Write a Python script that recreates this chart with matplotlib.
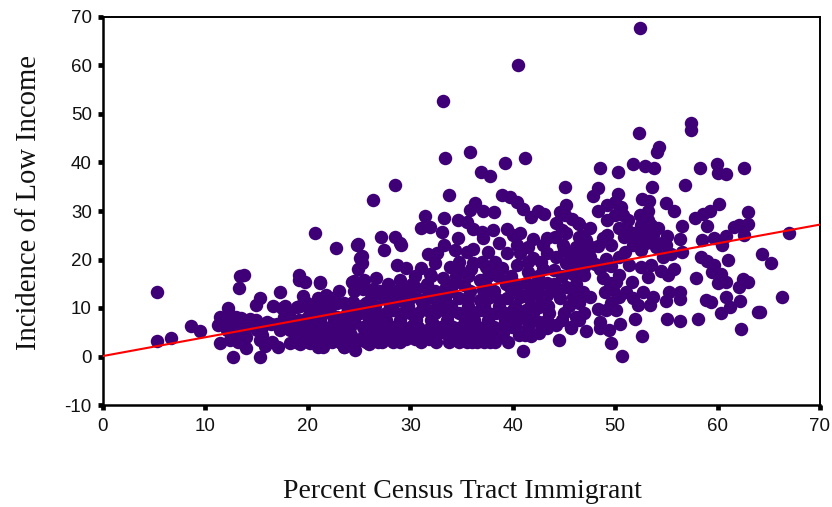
import matplotlib
matplotlib.use("Agg")
import matplotlib.pyplot as plt

outliers = [(52.4,67.8),(40.5,60),(33.2,52.7),(33.4,40.9),(35.8,42.2),(39.2,39.9),(41.2,40.9),(45.1,34.9),(33.8,33.3),(20.7,25.4),(24.8,23),(25.1,20.3),(29,23.4),(21.2,15.2)]
low_x = [(5.3,13.2),(5.3,3.1),(6.6,3.9),(8.6,6.2),(9.5,5.3),(22.7,22.3),(13.8,16.9),(13.4,16.5),(13.3,14.2),(19.1,16.9),(19.1,15.8),(19.7,15.3),(21.2,15.4),(17.3,13.2),(15.3,12.1),(14.9,10.6),(16.6,10.4),(17.5,10),(17.7,8.1),(12.2,10),(19.5,12.5),(21.8,12.7),(18.9,10.3),(11.4,8.1),(13,8.1),(14.4,7.7),(14.9,7.5),(11.2,6.5),(12.1,6.8),(13.1,5.8),(14,5.8),(15.5,6),(16.4,6.7),(17.3,5.5),(11.4,2.7),(12.4,3.4),(13.2,3),(14,1.7),(12.7,0),(15.3,0),(15.3,3.5),(15.8,2.2),(16.5,3),(17.1,1.9),(18.3,2.7),(19.2,2.6),(20.2,2.7),(21,1.9),(21.5,1.9),(19.1,7.5),(19.9,7.9),(19.6,5.8),(20.9,7.5),(20.9,11),(19.9,11),(22.8,11),(23.5,11),(22.2,10.3),(21.5,8.9),(22.8,8.2),(23.8,7.5),(18.9,4.8),(20.5,4.4),(21.8,4.8),(23.1,4.4),(23.5,1.9),(22.2,3.4),(18.3,5.5),(19.6,3.4),(24.3,15.4),(20.2,9.2),(20.9,5.8),(22.2,6.1),(23.5,6.1),(12.1,5.5),(12.7,7.2),(13.4,6.8),(12.4,8.6),(15,5.5),(12.8,7),(13.5,8),(11.8,7.4),(13.2,4.5),(14,4),(15.5,4.5),(17,6.8),(16,7.2),(18.2,8.5),(18.5,7)]
mid_x = [(36.95,38.1),(37.8,37.2),(28.5,35.4),(26.4,32.3),(39,33.2),(39.7,32.8),(40.4,31.9),(41,30.4),(41.8,28.8),(42.5,30),(43.1,29.3),(45.2,31.2),(44.6,29.7),(45.1,29.2),(36.3,31.6),(35.8,30.2),(37.1,29.9),(38.2,29.7),(34.7,28.1),(35.5,27.8),(31.4,29),(33.3,28.5),(31,26.4),(31.9,26.6),(33.1,25.7),(36.1,26.2),(37,25.7),(37.1,24.4),(38.1,26.1),(39.4,26.2),(40.7,25.5),(40,25),(44.2,27.5),(46.4,27.5),(27.1,24.7),(28.5,24.7),(29.1,23),(27.4,22),(24.9,23.1),(25.3,20.7),(25.3,19.2),(24.9,18),(34.7,24.4),(33.3,23),(31.7,21.1),(32.6,21.3),(34.4,22),(35.5,21.6),(36.1,22.1),(37.6,21.6),(38.7,23.3),(40.4,23),(42,24.2),(43.3,24.4),(44.1,24.7),(45.2,25.4),(44.9,23),(39.4,21.3),(40.7,21.3),(42,20.4),(43.3,21.3),(44.2,20.6),(28.7,18.9),(29.6,18.2),(31,18.2),(32.4,19.2),(31.9,17.1),(33.9,18.5),(34.8,17.8),(36.1,19.2),(37.4,18.5),(39,18.2),(40.4,18.9),(41.5,17.5),(44,17.8),(45.2,19.2),(46.4,17.8),(24.5,15.5),(25.5,15.8),(26.7,16.1),(25.4,13.9),(26.4,14),(27.9,14),(29,15.8),(29.3,14),(30.5,14.4),(31.6,14),(33.2,16.1),(33.5,14.4),(35.2,14.7),(36.8,15.8),(38.6,16.5),(37.1,13.7),(39.7,14.4),(41.3,15.1),(43.3,15.1),(45.2,14.4),(43.3,12.7),(44.6,12),(45.9,12.3),(42.6,10.3),(40.7,12.3),(38.7,11.6),(36.8,11.6),(34.8,12),(32.9,12.3),(31,11.6),(29,11.6),(27.4,12),(25.7,11),(24.4,11.3),(23.8,8.9),(25.1,8.9),(26.7,8.9),(28.3,9.6),(30,8.9),(31.6,9.6),(33.2,9.6),(34.8,8.9),(36.8,9.6),(38.4,8.9),(40,9.6),(41.3,9.6),(41,8.2),(42.6,7.2),(44.2,6.5),(45.7,6.1),(43.3,5.8),(42.6,4.8),(41.8,4.3),(44.5,3.4),(41,1.1),(24.1,6.1),(25.4,6.1),(27,6.8),(28.3,6.1),(30.3,6.5),(32.2,6.8),(34.2,6.1),(35.8,6.5),(37.4,6.1),(39.1,6.1),(40.4,7.5),(23.5,2),(24.6,1.3),(26,2.6),(27.2,3),(28.3,3),(29.6,3.7),(30.5,3.7),(31.8,3.7),(33.1,5.1),(34.2,5.1),(35.5,3),(36.5,3),(37.8,3),(39.1,4.8),(39.9,6.1),(23.2,2.7),(23.8,4.1),(25.1,3.4),(26.4,4.8),(28,4.8),(29.6,5.5),(31.6,5.5),(35.5,4.8),(37.1,4.8)]
high_x = [(57.4,48.1),(57.4,46.8),(52.3,46.1),(54.3,43.1),(54.1,42.2),(48.5,38.8),(50.3,38.1),(51.7,39.6),(52.9,39.3),(53.8,38.8),(58.3,38.8),(59.9,39.7),(60,37.8),(60.8,37.7),(62.6,38.8),(56.8,35.4),(53.6,34.9),(48.3,34.7),(47.8,33.1),(50.3,33.5),(60.1,31.5),(55,31.6),(55.7,30),(63,29.7),(52.6,32.4),(53.3,32.1),(48.3,30),(49.2,31.2),(50,31.9),(50.6,30.9),(49.2,28.1),(50,29.2),(50.8,29.2),(51.3,28.1),(52.4,29.2),(53.2,29.9),(53.2,28.1),(52.5,27.1),(53.5,27.1),(54.2,26.4),(57.8,28.5),(58.6,29.4),(59.3,29.9),(59,26.9),(63,27.4),(62.1,27.1),(61.6,26.6),(56.5,27),(46.5,27.4),(47.5,26.4),(50.4,26.4),(49.2,25),(50.9,24.7),(52.9,25.7),(53.7,25),(55.1,24.8),(56.3,24.2),(58.5,24),(59.7,24.4),(60.8,24.8),(62.6,25),(67,25.4),(60.4,23),(56.5,21.5),(55.5,21.1),(54.7,20.6),(58.4,20.6),(59,19.7),(59.7,18.9),(61,20),(64.3,21.1),(65.2,19.2),(55.7,18),(54.5,17.6),(55.2,16.8),(53.5,18.9),(52.5,18.5),(51.4,18.9),(53.2,16.4),(57.9,16.2),(59.5,17.5),(60.3,17),(60.8,15.4),(60,15.1),(62.5,16),(63,15.3),(62.1,14.4),(60.8,12.3),(62.2,11.5),(61.2,10.2),(58.9,11.6),(59.4,11.2),(60.3,8.9),(63.9,9.2),(64.1,9.2),(66.3,12.3),(62.3,5.7),(58.1,7.7),(56.3,7.3),(55.1,7.7),(56.3,13.2),(56.3,11.8),(55.3,13.4),(55,11.5),(53.7,12.3),(53.4,10.6),(52.7,13.2),(52.2,10.6),(51.7,12),(51.9,7.7),(52.6,4.2),(50.7,0.2),(50.5,6.8),(49.6,2.7),(49.4,5.5),(48.5,7.2),(48.5,5.8),(47.2,5.3),(45.7,5.8),(50.1,9.6),(49.1,9.6),(48.3,9.7),(49.6,11),(46.9,13.4),(47.5,12.3),(46.5,11),(46.2,8.2),(48.8,16.1),(49.5,15.1),(50.4,16.8),(51.6,15.3),(50.1,15.4),(49.8,13.7),(49,13.4),(51.1,13.2),(50.4,12.3),(47,16.8),(45.9,17.1),(46.5,24.7),(47.2,24),(48.3,22.8),(49.6,23),(51.7,23),(52.5,21.9),(54,22.6),(47.5,20.6),(49.1,20.2),(50.4,20.6),(46.2,22.6),(45.9,20.6),(41.5,22.5),(43,23),(45,22.2),(45.5,21),(46.8,21.8),(47.6,22.6),(48.8,24.5),(51,21.5),(51.2,26),(46,19.5),(47,18.5),(48.5,18),(51.7,25.4),(53,23.5),(52,24.5),(54.6,23.4),(55,23),(45.8,28.3),(44.8,26),(46.8,24.8),(48,19),(49.6,18.6)]
core_x = [(18.8,3),(20,3),(21.2,3),(22.4,3),(24.5,3),(25.7,3),(26.8,3),(29,3),(31,3),(32.5,3),(33.8,3),(34.8,3),(36,3),(37.2,3),(38.3,3),(39.5,3),
 (19.2,4.5),(21,4.5),(22.5,4.5),(24.2,4.5),(25.5,4.5),(27,4.5),(28.5,4.5),(30,4.5),(31,4.5),(32.4,4.5),(33.7,4.5),(34.6,4.5),(36.2,4.5),(37.7,4.5),(38.6,4.5),(40.6,4.5),(41.2,4.5),
 (18.5,6),(20,6),(21.5,6),(22.8,6),(26.2,6),(27.8,6),(29.3,6),(30.8,6),(33,6),(35,6),(36.6,6),(38.2,6),(40.2,6),(41.5,6),(43,6),
 (18,7.5),(21.2,7.5),(22.6,7.5),(24.5,7.5),(26,7.5),(27.6,7.5),(29,7.5),(30.6,7.5),(32,7.5),(33.6,7.5),(35.3,7.5),(36.2,7.5),(37.6,7.5),(39.2,7.5),(39.9,7.5),(41.8,7.5),(43.3,7.5),(44.8,7.5),(46.5,7.5),
 (20.6,9),(22.2,9),(24.5,9),(25.9,9),(27.6,9),(29.2,9),(30.8,9),(32.4,9),(33.8,9),(35.6,9),(37.6,9),(39.2,9),(40.7,9),(42,9),(43.5,9),(45,9),(47,9),
 (17.8,10.5),(19.2,10.5),(21.3,10.5),(24.2,10.5),(25.2,10.5),(26.6,10.5),(28,10.5),(29.8,10.5),(31.2,10.5),(32.6,10.5),(34,10.5),(35.6,10.5),(37.2,10.5),(38.7,10.5),(40.2,10.5),(41.8,10.5),(43.4,10.5),(45.5,10.5),
 (21,12),(22.5,12),(26.2,12),(28.2,12),(30,12),(31.7,12),(33.4,12),(35.6,12),(37.6,12),(39.4,12),(41.6,12),(42.8,12),
 (23,13.5),(24.5,13.5),(27,13.5),(28.6,13.5),(30.5,13.5),(32.4,13.5),(34,13.5),(35.8,13.5),(38.2,13.5),(40.4,13.5),(41.7,13.5),(42.5,13.5),(44.2,13.5),(46.4,13.5),
 (27.8,15),(30.2,15),(31.6,15),(34.2,15),(37.3,15),(39.3,15),(40.2,15),(42.2,15),(44,15),(46.2,15),
 (30.5,16.5),(32,16.5),(34.5,16.5),(35.6,16.5),(37.6,16.5),(39.8,16.5),(42.5,16.5),(44.8,16.5),
 (35.9,18),(38.2,18),(43,18),(45.8,18),(34.8,19.5),(37,19.5),(38.3,19.5),(41.5,19.5),(42.8,19.5),(46.9,19.5)]
fit_x = [0, 70]
fit_y = [0.1, 27.2]
x_ticks = list(range(0, 71, 10))
y_ticks = list(range(-10, 71, 10))
y_tick_labels = ["-10", "0", "10", "20", "30", "40", "50", "60", "70"]
x_title = "Percent Census Tract Immigrant"
y_title = "Incidence of Low Income"

fig = plt.figure(figsize=(8.32, 5.07), dpi=100)
ax = fig.add_axes([103/832, (507-405)/507, (820-103)/832, (405-17)/507])
pts = outliers + low_x + mid_x + high_x + core_x
ax.scatter([p[0] for p in pts], [p[1] for p in pts], s=94, color="#3f0077", linewidths=0, zorder=2, clip_on=False)
ax.plot(fit_x, fit_y, color="#ff0000", lw=1.5, zorder=3)
ax.set_xlim(0, 70)
ax.set_ylim(-10, 70)
ax.set_xticks(x_ticks)
ax.set_yticks(y_ticks)
ax.set_yticklabels(y_tick_labels)
ax.tick_params(length=3.6, width=3.4, labelsize=13.5)
ax.tick_params(axis="x", pad=5.5)
ax.tick_params(axis="y", pad=4.5)
for lab in ax.get_xticklabels() + ax.get_yticklabels():
    lab.set_family("Liberation Sans")
    lab.set_color("#111111")
for s in ax.spines.values():
    s.set_linewidth(1.4)
ax.spines["left"].set_linewidth(1.8)
ax.spines["bottom"].set_linewidth(1.8)
fig.text(462/832, 1-492/507, x_title, family="Liberation Serif", fontsize=20, ha="center", va="center", color="#111111")
fig.text(29.5/832, 1-203/507, y_title, family="Liberation Serif", fontsize=20.6, rotation=90, ha="center", va="center", color="#111111")
fig.savefig("out.png", dpi=100)
